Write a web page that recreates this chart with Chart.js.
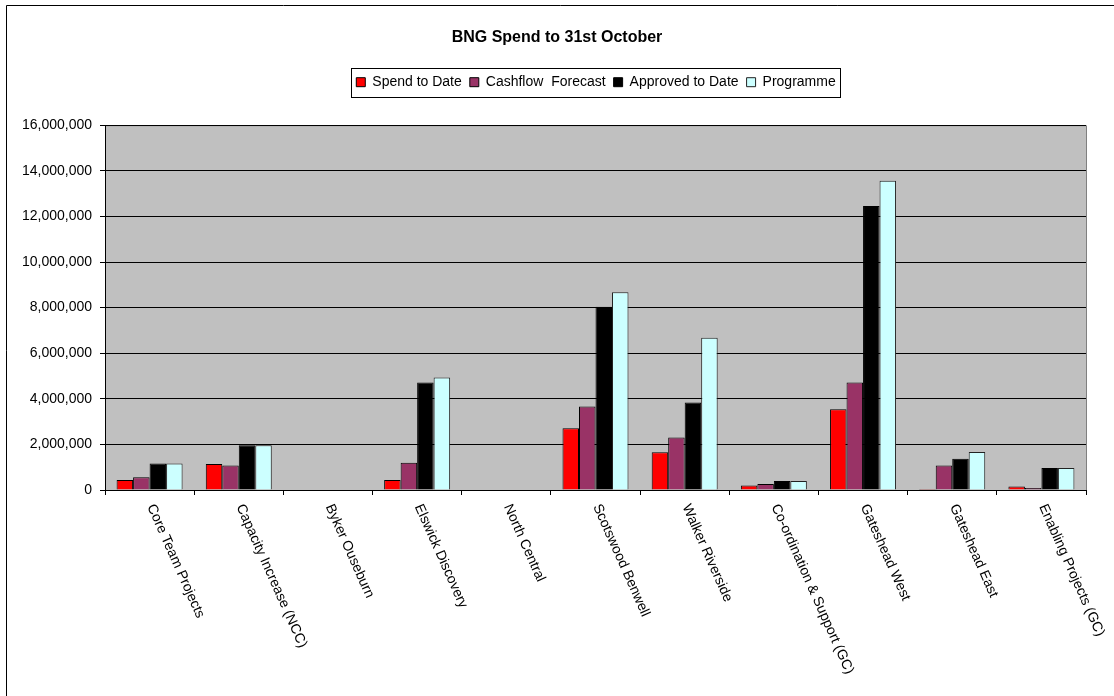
<!DOCTYPE html>
<html lang="en">
<head>
  <meta charset="UTF-8">
  <title>BNG Spend to 31st October</title>
  <script src="https://cdn.jsdelivr.net/npm/chart.js"></script>
  <style>
    body { margin: 0; background: #fff; }
    #wrap { width: 1114px; height: 696px; position: relative; }
  </style>
</head>
<body>
<div id="wrap"><canvas id="bngChart"></canvas></div>

<script>
  const categories = [
    'Core Team Projects', 'Capacity Increase (NCC)', 'Byker Ouseburn', 'Elswick Discovery',
    'North Central', 'Scotswood Benwell', 'Walker Riverside', 'Co-ordination & Support (GC)',
    'Gateshead West', 'Gateshead East', 'Enabling Projects (GC)'
  ];
  const spendToDate      = [440000, 1140000, 0, 440000, 0, 2710000, 1660000, 200000, 3540000, 40000, 150000];
  const cashflowForecast = [560000, 1070000, 0, 1200000, 0, 3660000, 2300000, 260000, 4710000, 1080000, 90000];
  const approvedToDate   = [1160000, 1960000, 0, 4710000, 0, 8040000, 3840000, 400000, 12460000, 1370000, 970000];
  const programme        = [1160000, 1960000, 0, 4930000, 0, 8670000, 6680000, 400000, 13560000, 1670000, 970000];
  const yTicks = [0, 2000000, 4000000, 6000000, 8000000, 10000000, 12000000, 14000000, 16000000];

  const FONT = "Arial, 'Liberation Sans', sans-serif";

  // grey plot area, outer frame, legend box and the slanted category names
  const decor = {
    id: 'decor',
    afterLayout(chart) {
      // Excel puts title/legend off-centre relative to the Chart.js box, nudge them
      const t = chart.titleBlock, lg = chart.legend;
      t.left += 14; t.right += 14;
      lg.left += 53; lg.right += 53;
      lg.top -= 26; lg.bottom -= 26;
    },
    beforeDraw(chart) {
      const { ctx, chartArea: a } = chart;
      ctx.save();
      ctx.fillStyle = '#c0c0c0';
      ctx.fillRect(a.left, a.top, a.right - a.left, a.bottom - a.top);
      ctx.strokeStyle = '#808080';
      ctx.lineWidth = 1;
      ctx.beginPath();
      ctx.moveTo(a.left, a.top + 0.5);
      ctx.lineTo(a.right + 0.5, a.top + 0.5);
      ctx.lineTo(a.right + 0.5, a.bottom);
      ctx.stroke();
      // outer frame
      ctx.strokeStyle = '#000';
      ctx.beginPath();
      ctx.moveTo(6.5, 696);
      ctx.lineTo(6.5, 5.5);
      ctx.lineTo(1114, 5.5);
      ctx.stroke();
      ctx.restore();
    },
    afterDraw(chart) {
      const { ctx } = chart;
      const boxes = chart.legend.legendHitBoxes;
      ctx.save();
      if (boxes && boxes.length) {
        const l = Math.min(...boxes.map(b => b.left)) - 5;
        const r = Math.max(...boxes.map(b => b.left + b.width)) + 5;
        const t = Math.min(...boxes.map(b => b.top)) - 7;
        const bt = Math.max(...boxes.map(b => b.top + b.height)) + 8;
        ctx.strokeStyle = '#000';
        ctx.lineWidth = 1;
        ctx.strokeRect(Math.round(l) + 0.5, Math.round(t) + 0.5, Math.round(r - l), Math.round(bt - t));
      }
      const xs = chart.scales.x;
      ctx.font = '14px ' + FONT;
      ctx.fillStyle = '#000';
      ctx.textAlign = 'left';
      ctx.textBaseline = 'middle';
      categories.forEach((c, i) => {
        ctx.save();
        ctx.translate(xs.getPixelForValue(i) + 1, xs.top + 15);
        ctx.rotate(66 * Math.PI / 180);
        ctx.fillText(c, 0, 0);
        ctx.restore();
      });
      ctx.restore();
    }
  };

  const ds = (label, data, bg, border) => ({
    label, data, backgroundColor: bg, borderColor: border, borderWidth: 1,
    barPercentage: 1.0, categoryPercentage: 0.74
  });

  new Chart(document.getElementById('bngChart'), {
    type: 'bar',
    data: {
      labels: categories,
      datasets: [
        ds('Spend to Date', spendToDate, '#ff0000', '#000'),
        ds('Cashflow  Forecast', cashflowForecast, '#993366', '#000'),
        ds('Approved to Date', approvedToDate, '#000000', '#000'),
        ds('Programme', programme, '#ccffff', '#222')
      ]
    },
    options: {
      responsive: true,
      maintainAspectRatio: false,
      animation: false,
      layout: { padding: { left: 0, right: 28, top: 0, bottom: 0 } },
      plugins: {
        title: {
          display: true,
          text: 'BNG Spend to 31st October',
          color: '#000',
          font: { family: FONT, size: 16, weight: 'bold' },
          padding: { top: 28, bottom: 46 }
        },
        legend: {
          position: 'top',
          labels: {
            color: '#000',
            font: { family: FONT, size: 14 },
            boxWidth: 9,
            boxHeight: 9,
            padding: 8
          }
        },
        tooltip: { enabled: false }
      },
      scales: {
        x: {
          ticks: { display: false },
          grid: { drawOnChartArea: false, drawTicks: true, tickLength: 5, color: '#000' },
          border: { color: '#000' },
          afterFit(scale) { scale.height = 206; }
        },
        y: {
          min: 0,
          max: 16000000,
          afterBuildTicks(scale) { scale.ticks = yTicks.map(v => ({ value: v })); },
          ticks: {
            color: '#000',
            padding: 8,
            font: { family: FONT, size: 14 },
            callback: v => v.toLocaleString('en-US')
          },
          grid: { color: '#000', tickLength: 5 },
          border: { color: '#000' },
          afterFit(scale) { scale.width = 105; }
        }
      }
    },
    plugins: [decor]
  });
</script>
</body>
</html>
